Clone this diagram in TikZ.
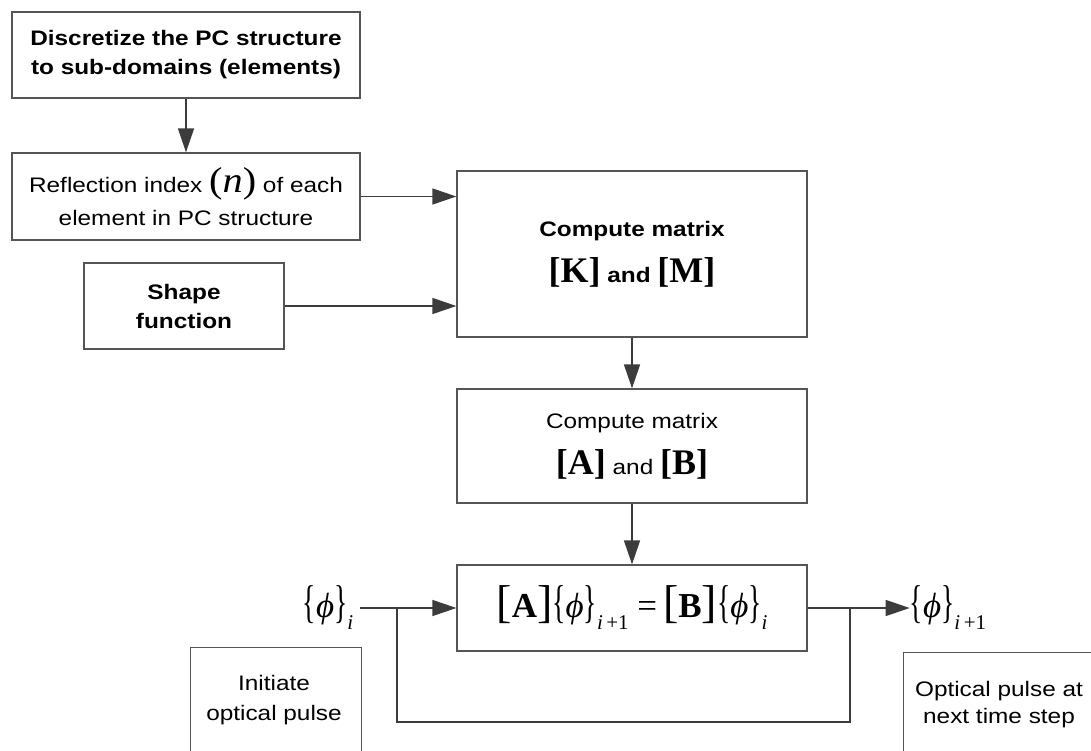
\documentclass[tikz,border=0pt]{standalone}
\usepackage{fontspec}
\usepackage{graphicx}
\setmainfont{Liberation Sans}[FakeStretch=1.16]
\newfontfamily\tms{Liberation Serif}
\newfontfamily\tmsw{Liberation Serif}[FakeStretch=1.12]
\usetikzlibrary{arrows.meta}
\definecolor{boxgray}{RGB}{85,85,85}
\definecolor{linegray}{RGB}{60,60,60}
\newcommand\brk[1]{{\fontsize{46}{46}\selectfont #1}}
\newcommand\brc[1]{\scalebox{0.6}[1]{\fontsize{46}{46}\selectfont #1}}
\newcommand\vphi{\brc{\{}\textit{ϕ}\brc{\}}}
\newcommand\subs[1]{\raisebox{-12pt}{\fontsize{21}{21}\selectfont #1}}
\newcommand\bmat[1]{{\tms\bfseries\fontsize{36}{36}\selectfont[#1]}}
\tikzset{
  box/.style={draw=boxgray, line width=1.3pt, fill=white, inner sep=0pt, align=center,
    font=\fontsize{21}{29}\selectfont},
  conn/.style={draw=linegray, line width=1.4pt, -{Triangle[length=24pt,width=16pt]}},
  plain/.style={draw=linegray, line width=1.4pt},
  lbl/.style={inner sep=0pt, font=\tms\fontsize{35}{40}\selectfont}
}
\begin{document}
\begin{tikzpicture}[x=1pt,y=-1pt]
\useasboundingbox (0,0) rectangle (1091,751);
\clip (0,0) rectangle (1091,751);
\fill[white] (0,0) rectangle (1091,751);

\node[box, minimum width=348pt, minimum height=86pt] (b1) at (186,55)
  {\bfseries Discretize the PC structure\\\bfseries to sub-domains (elements)};
\node[box, minimum width=348pt, minimum height=87pt] (b2) at (186,196.5)
  {Reflection index {\tmsw\fontsize{36}{36}\selectfont(\textit{n})} of each\\[4pt]element in PC structure};
\node[box, minimum width=200pt, minimum height=86pt] (b3) at (184,306)
  {\bfseries Shape\\\bfseries function};
\node[box, minimum width=350pt, minimum height=166pt] (b4) at (632,254)
  {\bfseries Compute matrix\\[15.5pt]\bmat{K} \textbf{and} \bmat{M}};
\node[box, minimum width=350pt, minimum height=114pt] (b5) at (632,446)
  {Compute matrix\\[16pt]\bmat{A} and \bmat{B}};
\node[box, minimum width=350pt, minimum height=86pt] (b6) at (632,608)
  {{\tms\fontsize{35}{40}\selectfont \brk{[}\textbf{A}\brk{]}\vphi\subs{\textit{i}\,+1}\ =\,\brk{[}\textbf{B}\brk{]}\vphi\subs{\textit{i}}}};

\node[lbl] (in) at (328,608) {\vphi\subs{\textit{i}}};
\node[lbl] (out) at (948,608) {\vphi\subs{\textit{i}\,+1}};

\node[box, minimum width=171pt, minimum height=150pt, anchor=north west] (init) at (190,647)
  {};
\node[align=center, font=\fontsize{21}{30}\selectfont] (initT) at (274,700) {Initiate\\optical pulse};
\node[box, minimum width=192pt, minimum height=150pt, anchor=north west] (next) at (903,652)
  {};
\node[align=center, font=\fontsize{21}{27}\selectfont] (nextT) at (999,705) {Optical pulse at\\next time step};

\coordinate (inS) at (360,608);
\coordinate (j1) at (397,608);
\coordinate (j2) at (850,608);
\coordinate (loopY) at (0,722);

\draw[conn] (b1.south) -- (b2.north);
\draw[conn] (b2.east) -- (b2.east -| b4.west);
\draw[conn] (b3.east) -- (b3.east -| b4.west);
\draw[conn] (b4.south) -- (b5.north);
\draw[conn] (b5.south) -- (b6.north);
\draw[conn] (inS) -- (b6.west);
\draw[conn] (b6.east) -- (out.west);
\draw[plain] (j1) |- (loopY -| j2) -- (j2);
\end{tikzpicture}
\end{document}
